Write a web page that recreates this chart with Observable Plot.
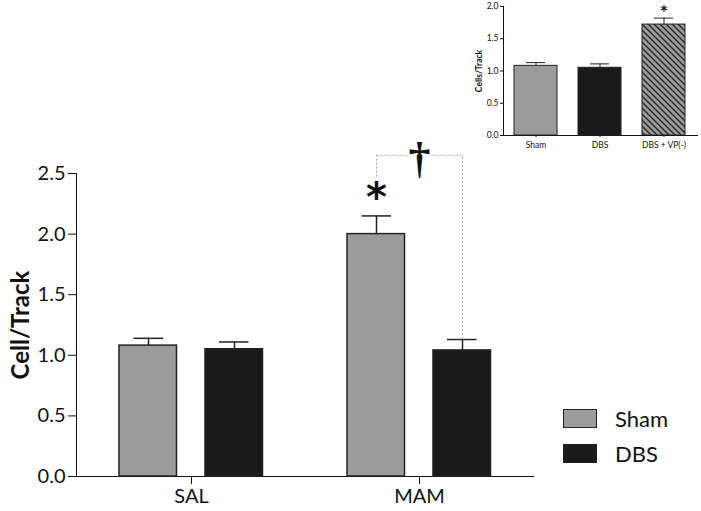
<!DOCTYPE html>
<html><head><meta charset="utf-8">
<script src="https://cdn.jsdelivr.net/npm/d3@7"></script>
<script src="https://cdn.jsdelivr.net/npm/@observablehq/plot@0.6"></script>
<style>
body{margin:0;background:#fff;}
#wrap{position:relative;width:701px;height:511px;overflow:hidden;font-family:Lato,sans-serif;background:#fff;}
#main,#inset{position:absolute;top:0;}
#main{left:0;}
#inset{left:450px;}
.sw{position:absolute;left:563px;width:32px;height:17px;border:1.5px solid #222;}
.lt{position:absolute;left:615px;font-size:22px;line-height:22px;color:#111;font-family:Lato,sans-serif;}
</style></head>
<body>
<div id="wrap">
  <div id="main"></div>
  <div id="inset"></div>
  <div class="sw" style="top:409px;background:#9b9b9b"></div>
  <div class="lt" style="top:408px">Sham</div>
  <div class="sw" style="top:444px;background:#1a1a1a"></div>
  <div class="lt" style="top:443px">DBS</div>
</div>
<script>
// ---- main chart data ----
const groups = ["SAL", "MAM"];
const treatments = ["Sham", "DBS"];
const shamMean = [1.08, 2.00];
const shamSem  = [0.06, 0.15];
const dbsMean  = [1.05, 1.04];
const dbsSem   = [0.06, 0.09];
const yTicks = [0, 0.5, 1.0, 1.5, 2.0, 2.5];
// significance annotations (MAM)
const starY = 2.30;
const bracketTop = 2.65;
const bracketLeftBottom = 2.47;
const daggerY = 2.62;

// ---- inset data ----
const insetCats = ["Sham", "DBS", "DBS + VP(-)"];
const insetMean = [1.08, 1.05, 1.72];
const insetSem  = [0.05, 0.06, 0.10];
const insetTicks = [0, 0.5, 1.0, 1.5, 2.0];
const insetStarY = 1.93;

const sham = groups.map((g, i) => ({group: g, treatment: "Sham", mean: shamMean[i], top: shamMean[i] + shamSem[i]}));
const dbs  = groups.map((g, i) => ({group: g, treatment: "DBS",  mean: dbsMean[i],  top: dbsMean[i] + dbsSem[i]}));
const mam = {group: "MAM", shamTop: shamMean[1] + shamSem[1], dbsTop: dbsMean[1] + dbsSem[1]};

const F = "Lato, sans-serif";
const ink = "#222";

const main = Plot.plot({
  width: 701, height: 511,
  marginLeft: 76, marginRight: 168, marginTop: 173, marginBottom: 35,
  style: {fontFamily: F, fontSize: "20px", color: "#111", background: "transparent"},
  x: {domain: groups, padding: 0, label: null, tickSize: 8, tickPadding: 4, line: true},
  y: {domain: [0, 2.5], ticks: yTicks, tickFormat: d3.format(".1f"), label: null, tickSize: 8, tickPadding: 3, line: true},
  color: {domain: treatments, range: ["#9b9b9b", "#1a1a1a"]},
  marks: [
    Plot.barY(sham, {x: "group", y: "mean", fill: "treatment", stroke: ink, strokeWidth: 1.5, insetLeft: 42, insetRight: 128.5}),
    Plot.barY(dbs,  {x: "group", y: "mean", fill: "treatment", stroke: ink, strokeWidth: 1.5, insetLeft: 128, insetRight: 42.5}),
    Plot.ruleX(sham, {x: "group", y1: "mean", y2: "top", dx: -43, stroke: ink, strokeWidth: 1.5}),
    Plot.ruleX(dbs,  {x: "group", y1: "mean", y2: "top", dx: 43, stroke: ink, strokeWidth: 1.5}),
    Plot.tickY(sham, {x: "group", y: "top", insetLeft: 56.5, insetRight: 142, stroke: ink, strokeWidth: 1.5}),
    Plot.tickY(dbs,  {x: "group", y: "top", insetLeft: 142, insetRight: 56.5, stroke: ink, strokeWidth: 1.5}),
    // bracket
    Plot.ruleX([mam], {x: "group", y1: () => bracketLeftBottom, y2: () => bracketTop, dx: -43, stroke: "#aaa", strokeDasharray: "2,2"}),
    Plot.ruleX([mam], {x: "group", y1: "dbsTop", y2: () => bracketTop, dx: 43, stroke: "#aaa", strokeDasharray: "2,2"}),
    Plot.tickY([mam], {x: "group", y: () => bracketTop, insetLeft: 71.5, insetRight: 71, stroke: "#aaa", strokeDasharray: "2,2"}),
    Plot.text([mam], {x: "group", y: () => starY, dx: -43, text: () => "*", fontSize: 40, fontWeight: "bold", fill: "#111", fontFamily: "DejaVu Sans"}),
    Plot.text([mam], {x: "group", y: () => daggerY, text: () => "†", fontSize: 44, fontWeight: "bold", fill: "#111", stroke: "white", strokeWidth: 4, fontFamily: "Liberation Serif"}),
    Plot.text(["Cell/Track"], {frameAnchor: "left", textAnchor: "middle", rotate: -90, dx: -55, fontSize: 24, fontWeight: "bold", fill: "#111"})
  ]
});
document.getElementById("main").append(main);

const insetRows = insetCats.map((c, i) => ({cat: c, mean: insetMean[i], top: insetMean[i] + insetSem[i]}));

const inset = Plot.plot({
  width: 251, height: 155,
  marginLeft: 53, marginRight: 4, marginTop: 6, marginBottom: 20,
  style: {fontFamily: F, fontSize: "8.5px", color: "#111", background: "transparent"},
  x: {domain: insetCats, paddingInner: 0.323, paddingOuter: 0.154, label: null, tickSize: 2, tickPadding: 4, line: true},
  y: {domain: [0, 2], ticks: insetTicks, tickFormat: d3.format(".1f"), label: null, tickSize: 3, tickPadding: 2, line: true},
  color: {domain: insetCats, range: ["#9b9b9b", "#1a1a1a", "url(#hatch)"]},
  marks: [
    Plot.barY(insetRows, {x: "cat", y: "mean", fill: "cat", stroke: ink, strokeWidth: 1}),
    Plot.ruleX(insetRows, {x: "cat", y1: "mean", y2: "top", stroke: ink, strokeWidth: 1}),
    Plot.tickY(insetRows, {x: "cat", y: "top", insetLeft: 12, insetRight: 12, stroke: ink, strokeWidth: 1}),
    Plot.text([insetCats[2]], {x: d => d, y: () => insetStarY, text: () => "*", fontSize: 14, fontWeight: "bold", fill: "#111", fontFamily: "DejaVu Sans"}),
    Plot.text(["Cells/Track"], {frameAnchor: "left", textAnchor: "middle", rotate: -90, dx: -24, fontSize: 8.5, fontWeight: "bold", fill: "#111"})
  ]
});
d3.select(inset).insert("defs", ":first-child").html(
  '<pattern id="hatch" patternUnits="userSpaceOnUse" width="6" height="6">' +
  '<rect width="6" height="6" fill="#9b9b9b"/>' +
  '<path d="M0,0L6,6M-1,5L1,7M5,-1L7,1" stroke="#222" stroke-width="1.3"/></pattern>');
document.getElementById("inset").append(inset);
</script>
</body></html>
